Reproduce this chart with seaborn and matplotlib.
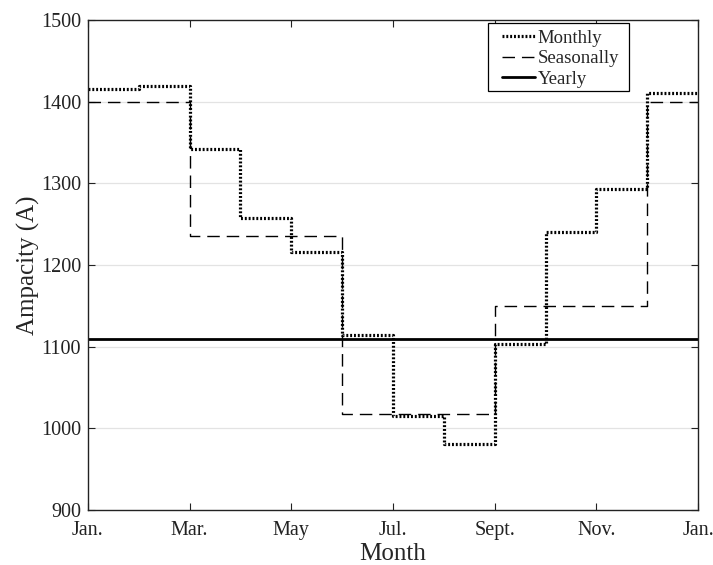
import numpy as np
import pandas as pd
import matplotlib
matplotlib.use("Agg")
import matplotlib.pyplot as plt
from matplotlib.patches import Rectangle
import seaborn as sns

# Data
month_index = [0, 1, 2, 3, 4, 5, 6, 7, 8, 9, 10, 11, 12]
monthly = [1416, 1419, 1342, 1258, 1216, 1114, 1015, 981, 1103, 1240, 1293, 1411, 1411]
seasonal = [1400, 1400, 1236, 1236, 1236, 1018, 1018, 1018, 1150, 1150, 1150, 1400, 1400]
yearly = [1110] * 13
tick_pos = [0, 2, 4, 6, 8, 10, 12]
tick_labels = ["Jan.", "Mar.", "May", "Jul.", "Sept.", "Nov.", "Jan."]
y_ticks = [900, 1000, 1100, 1200, 1300, 1400, 1500]

sns.set_theme(style="white")
plt.rcParams["font.family"] = ["Liberation Serif", "DejaVu Serif"]

df = pd.DataFrame({"m": month_index, "Monthly": monthly,
                   "Seasonally": seasonal, "Yearly": yearly})

fig = plt.figure(figsize=(7.13, 5.65), dpi=100)
ax = fig.add_axes([0.1234, 0.0973, 0.9790 - 0.1234, 0.9646 - 0.0973])

for y in y_ticks[1:-1]:
    ax.axhline(y, color="#e3e3e3", lw=0.9, zorder=0)

sns.lineplot(data=df, x="m", y="Monthly", ax=ax, drawstyle="steps-post",
             color="black", lw=2.3, linestyle=(0, (0.6, 0.6)), label="Monthly")
sns.lineplot(data=df, x="m", y="Seasonally", ax=ax, drawstyle="steps-post",
             color="black", lw=1.0, linestyle=(0, (9, 5)), label="Seasonally")
sns.lineplot(data=df, x="m", y="Yearly", ax=ax, drawstyle="steps-post",
             color="black", lw=2.0, linestyle="-", label="Yearly")

ax.set_xlim(0, 12)
ax.set_ylim(900, 1500)
ax.set_xticks(tick_pos)
ax.set_xticklabels(tick_labels)
ax.set_yticks(y_ticks)
ax.tick_params(axis="both", direction="in", length=5, width=0.8, color="#222222",
               labelsize=14.5, top=True, right=True, bottom=True, left=True,
               labelcolor="#222222")
ax.tick_params(axis="y", pad=5)
ax.tick_params(axis="x", pad=8)
for s in ax.spines.values():
    s.set_color("#222222")
    s.set_linewidth(1.0)

ax.set_xlabel("Month", fontsize=18, labelpad=2)
ax.set_ylabel("Ampacity (A)", fontsize=18, labelpad=0.5)

# legend frame drawn as a separate box (wider horizontal padding)
ax.add_patch(Rectangle((0.656, 0.855), 0.887 - 0.656, 0.994 - 0.855,
                       transform=ax.transAxes, facecolor="white",
                       edgecolor="black", lw=0.9, zorder=5))
leg = ax.legend(loc="upper left", bbox_to_anchor=(0.679, 0.980), fontsize=13.5,
                frameon=False, handlelength=1.75, handletextpad=0.15,
                borderpad=0.0, labelspacing=0.17, borderaxespad=0.0)
leg.set_zorder(6)

fig.savefig("out.png", dpi=100)
